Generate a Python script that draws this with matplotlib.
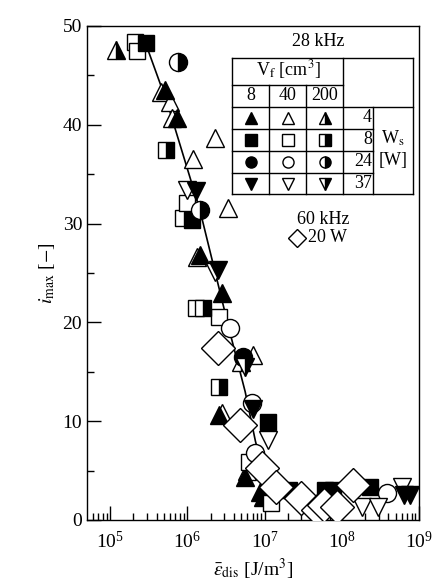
import numpy as np
import matplotlib
matplotlib.use('Agg')
import matplotlib.pyplot as plt
from matplotlib.ticker import LogLocator, MultipleLocator, LogFormatterMathtext

plt.rcParams['font.family'] = ['Liberation Serif', 'DejaVu Serif']
plt.rcParams['mathtext.fontset'] = 'stix'

# 28 kHz data, series named by marker / V_f [cm3]
tri_8_x = [5.1e5, 7.4e5, 1.45e6, 2.8e6, 2.6e6, 5.6e6, 9.5e6, 8.8e6]
tri_8_y = [43.5, 40.7, 26.8, 23.0, 10.6, 4.4, 2.3, 2.8]
tri_40_x = [4.5e5, 5.9e5, 6.3e5, 2.3e6, 1.2e6, 3.4e6, 1.35e6, 7.1e6, 2.8e6, 6.0e6]
tri_40_y = [43.3, 42.3, 40.7, 38.7, 36.5, 31.6, 26.6, 16.7, 10.8, 5.0]
tri_200_x = [1.2e5, 4.9e6]
tri_200_y = [47.6, 16.0]

sq_8_x = [2.9e5, 1.15e6, 1.1e7, 2.1e7, 6.0e7, 7.7e7, 2.3e8]
sq_8_y = [48.3, 30.4, 9.9, 3.0, 3.0, 3.0, 3.3]
sq_40_x = [2.1e5, 2.2e5, 8.7e5, 1.0e6, 1.3e6, 2.6e6, 6.2e6, 1.2e7]
sq_40_y = [48.4, 47.5, 30.6, 32.1, 21.5, 20.5, 5.9, 1.7]
sq_200_x = [5.3e5, 1.6e6, 2.6e6]
sq_200_y = [37.4, 21.5, 13.5]

ci_8_x = [5.3e6]
ci_8_y = [16.5]
ci_40_x = [3.55e6, 6.9e6, 7.6e6, 3.9e8]
ci_40_y = [19.4, 11.8, 6.8, 2.7]
ci_200_x = [7.6e5, 1.45e6]
ci_200_y = [46.4, 31.4]

dt_8_x = [1.3e6, 2.5e6, 7.0e6, 6.3e8, 7.6e8]
dt_8_y = [33.3, 25.3, 11.2, 2.5, 2.5]
dt_40_x = [1.0e6, 2.3e6, 1.1e7, 1.8e8, 2.95e8, 6.0e8]
dt_40_y = [33.4, 25.1, 8.1, 1.3, 1.3, 3.3]
dt_200_x = [5.6e6]
dt_200_y = [15.5]

# 60 kHz, 20 W
dia_x = [2.5e6, 4.8e6, 9.3e6, 1.4e7, 3.0e7, 4.9e7, 5.8e7, 8.7e7, 1.4e8]
dia_y = [17.4, 9.6, 5.3, 3.3, 2.2, 1.0, 1.5, 1.3, 3.5]

# fitted curve
fit_x = [2.8e5, 5.6e5, 1.45e6, 3.5e6, 5.6e6, 7.6e6, 9.5e6, 1.25e7, 2.0e7, 4.0e7]
fit_y = [48.5, 42.0, 31.4, 19.2, 13.0, 8.0, 5.0, 3.0, 2.0, 1.5]

fig = plt.figure(figsize=(4.32, 5.81), dpi=100)
ax = fig.add_axes([87/432, 1-520/581, 332/432, 494/581])

ax.plot(fit_x, fit_y, color='black', lw=1.2, zorder=2)

ms = 13
def half(x, y, m, size=ms):
    ax.plot(x, y, ls='none', marker=m, ms=size, mec='black', mew=1.0,
            mfc='black', mfcalt='white', fillstyle='right', zorder=3)

def full(x, y, m, fc, size=ms):
    ax.plot(x, y, ls='none', marker=m, ms=size, mec='black', mew=1.0,
            mfc=fc, zorder=3)

full(tri_40_x, tri_40_y, '^', 'white')
full(tri_8_x, tri_8_y, '^', 'black')
half(tri_200_x, tri_200_y, '^')
full(sq_40_x, sq_40_y, 's', 'white', 12)
full(sq_8_x, sq_8_y, 's', 'black', 12)
half(sq_200_x, sq_200_y, 's', 12)
full(ci_40_x, ci_40_y, 'o', 'white')
full(ci_8_x, ci_8_y, 'o', 'black')
half(ci_200_x, ci_200_y, 'o')
full(dt_40_x, dt_40_y, 'v', 'white')
full(dt_8_x, dt_8_y, 'v', 'black')
half(dt_200_x, dt_200_y, 'v')
full(dia_x, dia_y, 'D', 'white', 17)

ax.set_xscale('log')
ax.set_xlim(10**4.7, 1e9)
ax.set_ylim(0, 50)
ax.xaxis.set_major_locator(LogLocator(base=10, numticks=10))
ax.xaxis.set_minor_locator(LogLocator(base=10, subs=np.arange(2, 10), numticks=20))
ax.xaxis.set_major_formatter(LogFormatterMathtext())
ax.yaxis.set_major_locator(MultipleLocator(10))
ax.yaxis.set_minor_locator(MultipleLocator(5))
ax.tick_params(which='both', direction='in', top=False, right=False, labelsize=14)
ax.tick_params(which='major', length=10, width=1)
ax.tick_params(which='minor', length=5, width=1)
ax.tick_params(axis='x', pad=8)
for s in ax.spines.values():
    s.set_linewidth(1.0)

ax.set_xlabel(r'$\bar{\varepsilon}_{\rm dis}$ [J/m$^3$]', fontsize=14, labelpad=3)
ax.set_ylabel(r'$i_{\rm max}$ [$-$]', fontsize=14, labelpad=4)

# legend table, drawn in pixel coordinates of the figure
def P(px, py):
    return px/432, 1-py/581

def hline(x0, x1, y):
    fig.add_artist(plt.Line2D([x0/432, x1/432], [1-y/581, 1-y/581], color='black', lw=1.0))

def vline(x, y0, y1):
    fig.add_artist(plt.Line2D([x/432, x/432], [1-y0/581, 1-y1/581], color='black', lw=1.0))

cols = [232.3, 269.3, 306.0, 343.3, 373.3, 412.7]
rows = [57.7, 85.0, 106.7, 129.0, 150.7, 172.7, 194.3]
hline(cols[0], cols[5], rows[0])
hline(cols[0], cols[3], rows[1])
hline(cols[0], cols[5], rows[2])
for r in rows[3:6]:
    hline(cols[0], cols[4], r)
hline(cols[0], cols[5], rows[6])
vline(cols[0], rows[0], rows[-1])
vline(cols[1], rows[1], rows[-1])
vline(cols[2], rows[1], rows[-1])
vline(cols[3], rows[0], rows[-1])
vline(cols[4], rows[2], rows[-1])
vline(cols[5], rows[0], rows[-1])

fs = 13
fig.text(*P(318, 42), '28 kHz', fontsize=fs, ha='center', va='center')
fig.text(*P(288, 70), r'V$_{\rm f}$ [cm$^3$]', fontsize=fs, ha='center', va='center')
for c, t in zip([250.8, 287.7, 324.7], ['8', '40', '200']):
    fig.text(*P(c, 96), t, fontsize=fs, ha='center', va='center')
rc = [(rows[i] + rows[i+1])/2 for i in range(2, 6)]
for r, t in zip(rc, ['4', '8', '24', '37']):
    fig.text(*P(372, r), t, fontsize=fs, ha='right', va='center')
fig.text(*P(393, 138), r'W$_{\rm s}$', fontsize=fs, ha='center', va='center')
fig.text(*P(393, 161), '[W]', fontsize=fs, ha='center', va='center')

lax = fig.add_axes([0, 0, 1, 1], facecolor='none')
lax.set_xlim(0, 432)
lax.set_ylim(581, 0)
lax.axis('off')
leg_m = ['^', 's', 'o', 'v']
for r, m in zip(rc, leg_m):
    lax.plot(250.8, r, marker=m, ms=8, mec='black', mfc='black', ls='none')
    lax.plot(287.7, r, marker=m, ms=8, mec='black', mfc='white', ls='none')
    lax.plot(324.7, r, marker=m, ms=8, mec='black', mfc='black', mfcalt='white',
             fillstyle='right', ls='none')

fig.text(*P(323, 220), '60 kHz', fontsize=fs, ha='center', va='center')
lax.plot(297, 238, marker='D', ms=9, mec='black', mfc='white', ls='none')
fig.text(*P(308, 238), '20 W', fontsize=fs, ha='left', va='center')

fig.savefig('out.png', dpi=100)
